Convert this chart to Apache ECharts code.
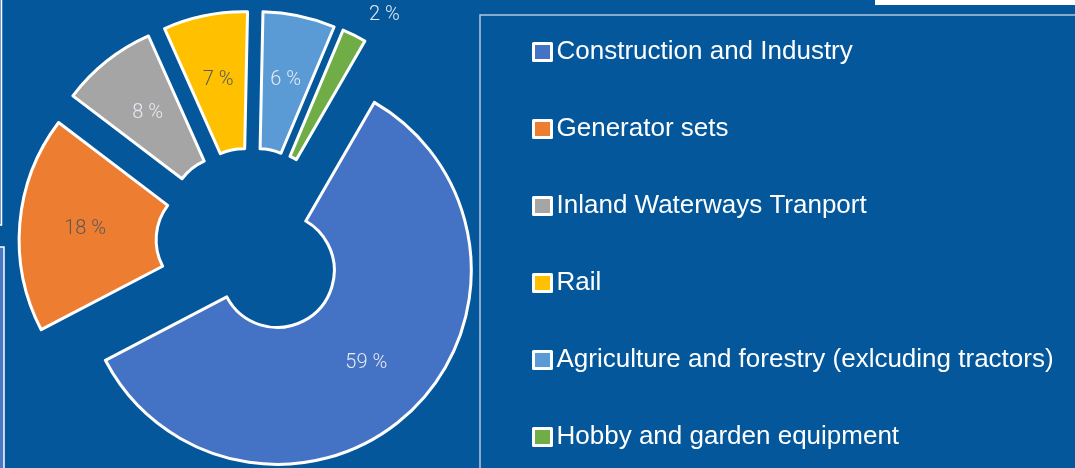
<!DOCTYPE html>
<html>
<head>
<meta charset="utf-8">
<script src="https://cdn.jsdelivr.net/npm/echarts@6/dist/echarts.min.js"></script>
<style>
  html, body { margin: 0; padding: 0; background: #03579A; }
  #chart { width: 1075px; height: 468px; }
</style>
</head>
<body>
<div id="chart"></div>
<script>
const categories = [
  'Construction and Industry',
  'Generator sets',
  'Inland Waterways Tranport',
  'Rail',
  'Agriculture and forestry (exlcuding tractors)',
  'Hobby and garden equipment'
];
const values = [59, 18, 8, 7, 6, 2];
const colors = ['#4472C4', '#ED7D31', '#A5A5A5', '#FFC000', '#5B9BD5', '#70AD47'];
const labelColors = ['#E6EAF2', '#5A5A5A', '#E6EAF2', '#5A5A5A', '#E6EAF2', '#E6EAF2'];
const outsideLabel = [false, false, false, false, false, true];

const data = categories.map((name, i) => {
  const item = {
    name: name,
    value: values[i],
    selected: true,
    itemStyle: { color: colors[i] },
    label: { color: labelColors[i] }
  };
  if (outsideLabel[i]) {
    item.label.position = 'outside';
    item.labelLine = { show: false, length: 22, length2: 0 };
  }
  return item;
});

const chart = echarts.init(document.getElementById('chart'), null, { renderer: 'canvas' });
chart.setOption({
  backgroundColor: '#03579A',
  animation: false,
  graphic: [
    { type: 'rect', shape: { x: 480, y: 15, width: 700, height: 600 },
      style: { fill: 'none', stroke: '#B4C8DE', lineWidth: 1.5 }, silent: true },
    { type: 'rect', shape: { x: 875, y: -5, width: 220, height: 10 },
      style: { fill: '#FFFFFF' }, silent: true },
    { type: 'rect', shape: { x: -10, y: -10, width: 11.5, height: 235 },
      style: { fill: '#4A78C6', stroke: '#FFFFFF', lineWidth: 1.5 }, silent: true },
    { type: 'rect', shape: { x: -10, y: 247, width: 14, height: 300 },
      style: { fill: '#4A78C6', stroke: '#FFFFFF', lineWidth: 1.5 }, silent: true }
  ],
  legend: {
    orient: 'vertical',
    left: 527,
    top: 32,
    itemWidth: 18,
    itemHeight: 17,
    itemGap: 47,
    icon: 'rect',
    selectedMode: false,
    itemStyle: { borderColor: '#FFFFFF', borderWidth: 3 },
    textStyle: {
      color: '#FFFFFF',
      fontSize: 26,
      lineHeight: 30,
      fontFamily: "'Liberation Sans', Arial, sans-serif"
    },
    data: categories
  },
  series: [{
    type: 'pie',
    center: [251, 243],
    radius: [57, 194],
    startAngle: 60,
    clockwise: true,
    selectedMode: 'multiple',
    selectedOffset: 38,
    avoidLabelOverlap: false,
    emphasis: { disabled: true },
    itemStyle: { borderColor: '#FFFFFF', borderWidth: 3 },
    select: { itemStyle: { borderColor: '#FFFFFF', borderWidth: 3 } },
    label: {
      show: true,
      position: 'inside',
      formatter: '{c} %',
      fontFamily: 'Roboto',
      fontWeight: 300,
      fontSize: 20
    },
    labelLine: { show: false },
    data: data
  }]
});
</script>
</body>
</html>
